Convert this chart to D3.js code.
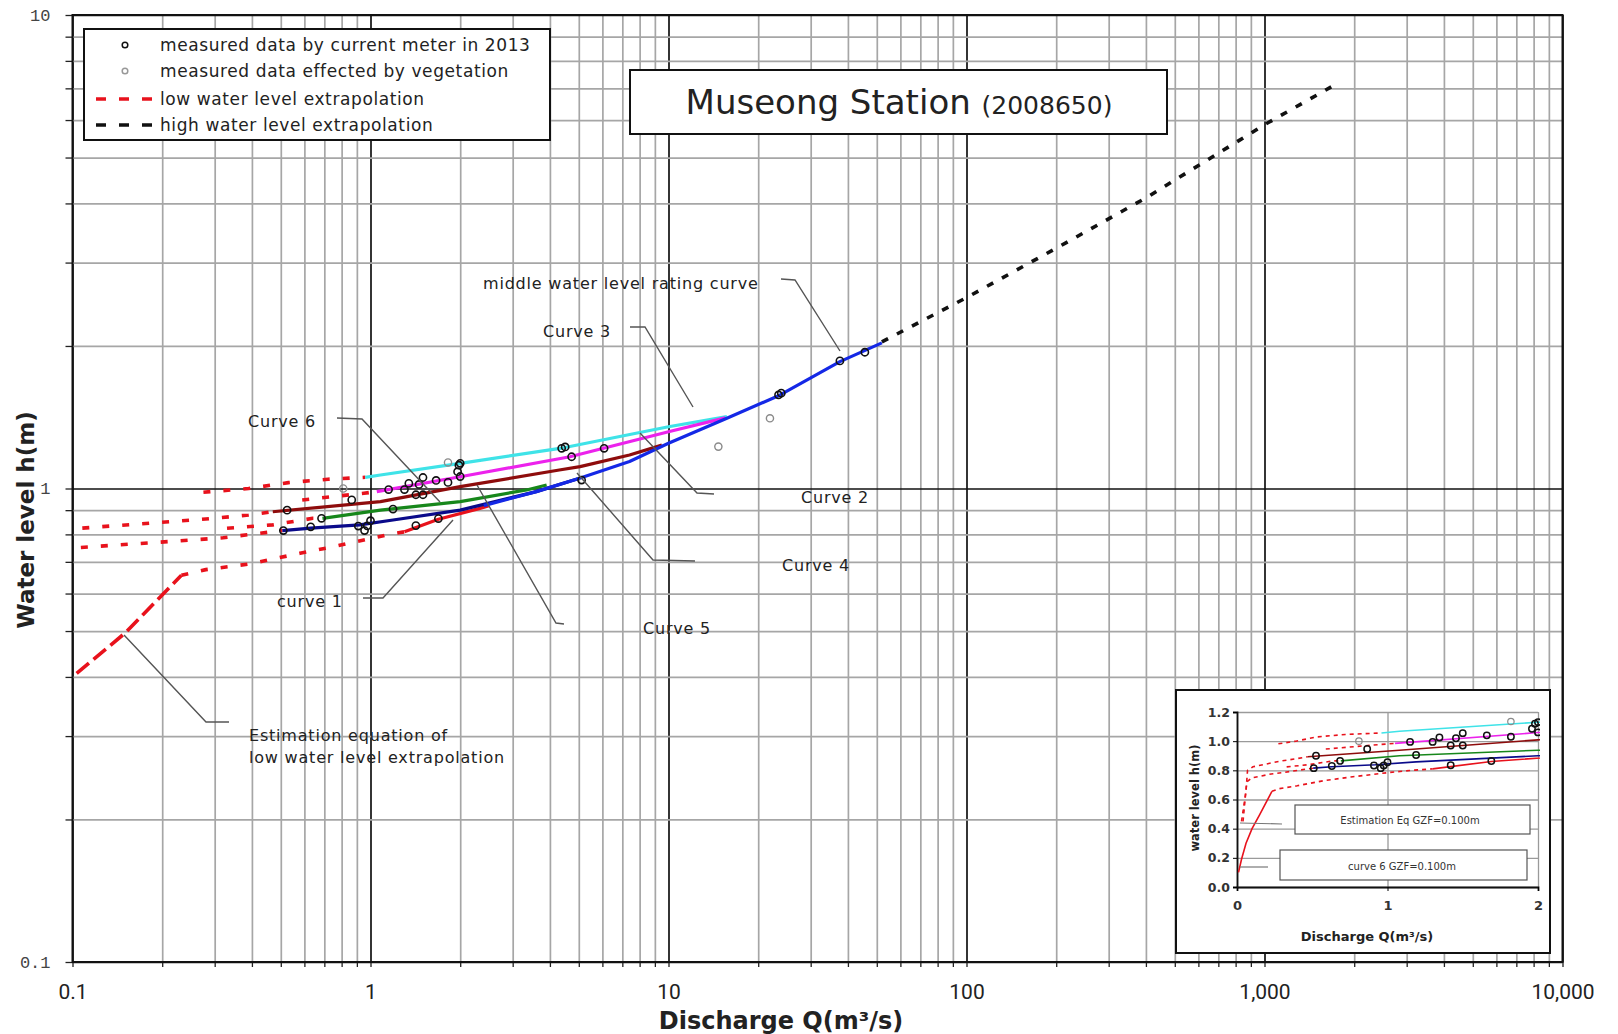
<!DOCTYPE html>
<html>
<head>
<meta charset="utf-8">
<script src="https://cdn.jsdelivr.net/npm/d3@7"></script>
<style>
  body { margin: 0; background: #fff; }
  svg text { font-family: "DejaVu Sans", sans-serif; }
</style>
</head>
<body>
<svg id="chart" width="1618" height="1034"></svg>
<script>
// ---- data (discharge Q in m3/s, water level h in m) ----
const xTickValues = [0.1, 1, 10, 100, 1000, 10000];
const xTickLabels = ["0.1", "1", "10", "100", "1,000", "10,000"];
const yTickValues = [0.1, 1, 10];
const yTickLabels = ["0.1", "1", "10"];

const curve1 = [[0.506, 0.815], [0.63, 0.825], [0.92, 0.838], [1.19, 0.858], [2.0, 0.90], [3.6, 0.985], [5.0, 1.05]];
const middleCurve = [[2.4, 0.92], [3.6, 0.985], [5.0, 1.05], [7.4, 1.14], [10, 1.246], [15.7, 1.407], [23.7, 1.576], [37.6, 1.853], [52, 2.03]];
const curve4 = [[0.69, 0.865], [1.08, 0.90], [2.0, 0.938], [3.34, 0.993], [3.9, 1.017]];
const curve5 = [[0.47, 0.893], [1.08, 0.938], [2.0, 1.009], [4.3, 1.094], [5.05, 1.112], [7.4, 1.177], [9.5, 1.235]];
const curve2 = [[1.05, 0.985], [2.0, 1.059], [4.67, 1.167], [10, 1.318], [15.5, 1.41]];
const curve3 = [[0.96, 1.056], [1.08, 1.068], [2.0, 1.13], [4.32, 1.215], [10, 1.35], [15.7, 1.418]];
const curveRed = [[1.3, 0.81], [1.69, 0.861], [2.33, 0.908], [2.5, 0.92]];

const lowExtCyan = [[0.275, 0.982], [0.39, 1.0], [0.53, 1.029], [0.72, 1.046], [0.96, 1.056]];
const lowExtMagenta = [[0.59, 0.946], [0.95, 0.977], [1.05, 0.985]];
const lowExtBrown = [[0.03, 0.45], [0.06, 0.66], [0.07, 0.80], [0.106, 0.824], [0.28, 0.862], [0.39, 0.879], [0.47, 0.893]];
const lowExtNavy = [[0.04, 0.45], [0.065, 0.72], [0.098, 0.748], [0.227, 0.775], [0.32, 0.787], [0.506, 0.815]];
const lowExtGreen = [[0.33, 0.824], [0.47, 0.838], [0.64, 0.865], [0.69, 0.865]];
const lowExtRed = [[0.232, 0.656], [0.28, 0.674], [0.40, 0.694], [0.58, 0.73], [0.77, 0.756], [1.01, 0.785], [1.16, 0.80], [1.3, 0.81]];
const estimationLine = [[0.01, 0.10], [0.03, 0.19], [0.06, 0.30], [0.1, 0.40], [0.15, 0.495], [0.232, 0.656]];
const highExt = [[52, 2.04], [100, 2.53], [206, 3.25], [403, 4.12], [1007, 5.88], [1675, 7.05]];

const measured = [[0.51, 0.815], [0.525, 0.90], [0.63, 0.83], [0.685, 0.865], [0.865, 0.946], [0.91, 0.833],
  [0.955, 0.815], [0.975, 0.834], [1.0, 0.855], [1.15, 0.995], [1.19, 0.905], [1.30, 0.995], [1.345, 1.025],
  [1.42, 0.835], [1.42, 0.97], [1.455, 1.02], [1.50, 1.055], [1.50, 0.97], [1.66, 1.04], [1.69, 0.864],
  [1.82, 1.03], [1.96, 1.085], [1.98, 1.12], [2.0, 1.13], [2.0, 1.06], [4.38, 1.216], [4.5, 1.224],
  [4.73, 1.167], [5.11, 1.042], [6.08, 1.216], [23.4, 1.576], [23.9, 1.59], [37.6, 1.86], [45.6, 1.94]];
const vegetation = [[0.81, 1.0], [1.82, 1.135], [14.7, 1.226], [21.9, 1.407]];

const insetXTicks = [0, 1, 2];
const insetXLabels = ["0", "1", "2"];
const insetYTicks = [0, 0.2, 0.4, 0.6, 0.8, 1.0, 1.2];
const insetYLabels = ["0.0", "0.2", "0.4", "0.6", "0.8", "1.0", "1.2"];

// ---- layout ----
const plot = { left: 72.5, right: 1562.5, top: 15, bottom: 962 };
const svg = d3.select("#chart");

const x = d3.scaleLog().domain([0.1, 10000]).range([plot.left, plot.right]);
const y = d3.scaleLog().domain([0.1, 10]).range([plot.bottom, plot.top]);

const isMajor = v => Math.abs(Math.log10(v) - Math.round(Math.log10(v))) < 1e-9;
const gridX = d3.range(-1, 4).flatMap(e => d3.range(1, 10).map(k => k * Math.pow(10, e))).concat([10000]);
const gridY = d3.range(-1, 1).flatMap(e => d3.range(1, 10).map(k => k * Math.pow(10, e))).concat([10]);

// grid
svg.append('g')
    .attr('transform', `translate(0, ${plot.bottom})`)
    .call(d3.axisBottom(x).tickValues(gridX).tickSize(-(plot.bottom - plot.top)).tickFormat(''))
    .call(g => g.select('.domain').remove())
    .selectAll('line')
    .attr('stroke', d => isMajor(d) ? '#111' : '#a6a6a6')
    .attr('stroke-width', 1.7);

svg.append('g')
    .attr('transform', `translate(${plot.left}, 0)`)
    .call(d3.axisLeft(y).tickValues(gridY).tickSize(-(plot.right - plot.left)).tickFormat(''))
    .call(g => g.select('.domain').remove())
    .selectAll('line')
    .attr('stroke', d => isMajor(d) ? '#111' : '#a6a6a6')
    .attr('stroke-width', 1.7);

// outer tick marks
svg.append('g')
    .attr('transform', `translate(0, ${plot.bottom})`)
    .call(d3.axisBottom(x).tickValues(gridX).tickSize(5).tickFormat(''))
    .call(g => g.select('.domain').remove())
    .selectAll('line').attr('stroke', '#222').attr('stroke-width', 1.3);

svg.append('g')
    .attr('transform', `translate(${plot.left}, 0)`)
    .call(d3.axisLeft(y).tickValues(gridY).tickSize(7).tickFormat(''))
    .call(g => g.select('.domain').remove())
    .selectAll('line').attr('stroke', '#222').attr('stroke-width', 1.3);

// tick labels
svg.append('g')
    .attr('transform', `translate(0, ${plot.bottom})`)
    .call(d3.axisBottom(x).tickValues(xTickValues).tickSize(0).tickPadding(22)
        .tickFormat((d, i) => xTickLabels[i]))
    .call(g => g.select('.domain').remove())
    .selectAll('text')
    .style('font-family', 'Roboto, sans-serif')
    .style('font-size', '21px')
    .attr('fill', '#222');

svg.append('g')
    .attr('transform', `translate(${plot.left}, 0)`)
    .call(d3.axisLeft(y).tickValues(yTickValues).tickSize(0).tickPadding(22)
        .tickFormat((d, i) => yTickLabels[i]))
    .call(g => g.select('.domain').remove())
    .selectAll('text')
    .style('font-family', '"Liberation Mono", monospace')
    .style('font-size', '17px')
    .attr('fill', '#444');

// axis titles
svg.append('text')
    .attr('x', 781).attr('y', 1029)
    .attr('text-anchor', 'middle')
    .style('font-size', '24px').style('font-weight', 'bold')
    .attr('fill', '#222')
    .text('Discharge Q(m³/s)');

svg.append('text')
    .attr('transform', 'translate(34, 520) rotate(-90)')
    .attr('text-anchor', 'middle')
    .style('font-size', '23px').style('font-weight', 'bold')
    .attr('fill', '#222')
    .text('Water level h(m)');

// ---- data marks ----
svg.append('clipPath').attr('id', 'plotClip')
    .append('rect')
    .attr('x', plot.left).attr('y', plot.top)
    .attr('width', plot.right - plot.left).attr('height', plot.bottom - plot.top);

const dataG = svg.append('g').attr('clip-path', 'url(#plotClip)');
const line = d3.line().x(d => x(d[0])).y(d => y(d[1]));

const RED = '#e8121c';
const dashed = [lowExtCyan, lowExtMagenta, lowExtBrown, lowExtNavy, lowExtGreen, lowExtRed];
dashed.forEach(s => {
    dataG.append('path').datum(s).attr('d', line)
        .attr('fill', 'none').attr('stroke', RED).attr('stroke-width', 3.6)
        .attr('stroke-dasharray', '7,13');
});
dataG.append('path').datum(estimationLine).attr('d', line)
    .attr('fill', 'none').attr('stroke', RED).attr('stroke-width', 3.6)
    .attr('stroke-dasharray', '16,6');
dataG.append('path').datum(highExt).attr('d', line)
    .attr('fill', 'none').attr('stroke', '#111').attr('stroke-width', 3.6)
    .attr('stroke-dasharray', '7,10');

const solidCurves = [
    { data: curve3, color: '#3fe3e8' },
    { data: curve2, color: '#ec22ec' },
    { data: curve5, color: '#8e0c0c' },
    { data: curve4, color: '#17871b' },
    { data: curveRed, color: '#e8121c' },
    { data: curve1, color: '#0a0a8a' },
    { data: middleCurve, color: '#1428e6' }
];
solidCurves.forEach(c => {
    dataG.append('path').datum(c.data).attr('d', line)
        .attr('fill', 'none').attr('stroke', c.color).attr('stroke-width', 3.2)
        .attr('stroke-linejoin', 'round');
});

dataG.selectAll('.veg').data(vegetation).enter().append('circle')
    .attr('cx', d => x(d[0])).attr('cy', d => y(d[1])).attr('r', 3.6)
    .attr('fill', 'none').attr('stroke', '#8a8a8a').attr('stroke-width', 1.4);

dataG.selectAll('.meas').data(measured).enter().append('circle')
    .attr('cx', d => x(d[0])).attr('cy', d => y(d[1])).attr('r', 3.6)
    .attr('fill', 'none').attr('stroke', '#111').attr('stroke-width', 1.6);

// plot border
svg.append('rect')
    .attr('x', plot.left).attr('y', plot.top)
    .attr('width', plot.right - plot.left).attr('height', plot.bottom - plot.top)
    .attr('fill', 'none').attr('stroke', '#111').attr('stroke-width', 2);

// ---- annotations ----
const leaders = [
    { pts: [[781, 279], [795, 280], [840, 351]], label: 'middle water level rating curve', lx: 483, ly: 283 },
    { pts: [[630, 327], [645, 327], [693, 407]], label: 'Curve 3', lx: 543, ly: 331 },
    { pts: [[337, 418], [362, 419], [440, 502]], label: 'Curve 6', lx: 248, ly: 421 },
    { pts: [[640, 433], [697, 493], [714, 494]], label: 'Curve 2', lx: 801, ly: 497 },
    { pts: [[577, 473], [653, 560], [695, 561]], label: 'Curve 4', lx: 782, ly: 565 },
    { pts: [[477, 485], [556, 623], [564, 624]], label: 'Curve 5', lx: 643, ly: 628 },
    { pts: [[453, 520], [383, 598], [363, 598]], label: 'curve 1', lx: 277, ly: 601 },
    { pts: [[124, 635], [206, 722], [229, 722]], label: 'Estimation equation of', lx: 249, ly: 735 }
];
const noteText = sel => sel.style('font-size', '16px').style('letter-spacing', '0.8px').attr('fill', '#222');
leaders.forEach(a => {
    svg.append('path').attr('d', d3.line()(a.pts))
        .attr('fill', 'none').attr('stroke', '#555').attr('stroke-width', 1.4);
    svg.append('text').attr('x', a.lx).attr('y', a.ly).attr('dy', '0.35em')
        .call(noteText).text(a.label);
});
svg.append('text').attr('x', 249).attr('y', 757).attr('dy', '0.35em')
    .call(noteText).text('low water level extrapolation');

// ---- legend ----
const legend = svg.append('g');
legend.append('rect').attr('x', 84).attr('y', 29).attr('width', 466).attr('height', 111)
    .attr('fill', '#fff').attr('stroke', '#111').attr('stroke-width', 2);
const legendItems = [
    { label: 'measured data by current meter in 2013', type: 'circle', color: '#111' },
    { label: 'measured data effected by vegetation', type: 'circle', color: '#999' },
    { label: 'low water level extrapolation', type: 'dash', color: RED },
    { label: 'high water level extrapolation', type: 'dash', color: '#111' }
];
const legendRows = [45, 71, 99, 125];
legendItems.forEach((it, i) => {
    const yy = legendRows[i];
    if (it.type === 'circle') {
        legend.append('circle').attr('cx', 125).attr('cy', yy).attr('r', 2.8)
            .attr('fill', 'none').attr('stroke', it.color).attr('stroke-width', 1.5);
    } else {
        legend.append('line').attr('x1', 96).attr('x2', 152).attr('y1', yy).attr('y2', yy)
            .attr('stroke', it.color).attr('stroke-width', 3.6).attr('stroke-dasharray', '10,13');
    }
    legend.append('text').attr('x', 160).attr('y', yy).attr('dy', '0.35em')
        .style('font-size', '17px').style('letter-spacing', '0.6px')
        .attr('fill', '#222').text(it.label);
});

// ---- title ----
svg.append('rect').attr('x', 630).attr('y', 70).attr('width', 537).attr('height', 64)
    .attr('fill', '#fff').attr('stroke', '#111').attr('stroke-width', 2);
const title = svg.append('text').attr('x', 899).attr('y', 114).attr('text-anchor', 'middle').attr('fill', '#222');
title.append('tspan').style('font-size', '34px').text('Museong Station ');
title.append('tspan').style('font-size', '25px').text('(2008650)');

// ---- inset (linear scale) ----
const inset = svg.append('g');
inset.append('rect').attr('x', 1176).attr('y', 690).attr('width', 374).attr('height', 263)
    .attr('fill', '#fff').attr('stroke', '#111').attr('stroke-width', 2);

const xi = d3.scaleLinear().domain([0, 2]).range([1237, 1538]);
const yi = d3.scaleLinear().domain([0, 1.2]).range([887, 712]);

inset.append('g')
    .attr('transform', 'translate(0, 887)')
    .call(d3.axisBottom(xi).tickValues(insetXTicks).tickSize(-(887 - 712)).tickFormat(''))
    .call(g => g.select('.domain').remove())
    .selectAll('line').attr('stroke', '#9a9a9a').attr('stroke-width', 1.3);
inset.append('g')
    .attr('transform', 'translate(1237, 0)')
    .call(d3.axisLeft(yi).tickValues(insetYTicks).tickSize(-(1538 - 1237)).tickFormat(''))
    .call(g => g.select('.domain').remove())
    .selectAll('line').attr('stroke', '#9a9a9a').attr('stroke-width', 1.3);

inset.append('g')
    .attr('transform', 'translate(0, 887)')
    .call(d3.axisBottom(xi).tickValues(insetXTicks).tickSize(4).tickPadding(10)
        .tickFormat((d, i) => insetXLabels[i]))
    .call(g => g.select('.domain').attr('stroke', '#111').attr('stroke-width', 1.8))
    .call(g => g.selectAll('text').style('font-size', '13px').style('font-weight', 'bold').attr('fill', '#333'));
inset.append('g')
    .attr('transform', 'translate(1237, 0)')
    .call(d3.axisLeft(yi).tickValues(insetYTicks).tickSize(4).tickPadding(3)
        .tickFormat((d, i) => insetYLabels[i]))
    .call(g => g.select('.domain').attr('stroke', '#111').attr('stroke-width', 1.8))
    .call(g => g.selectAll('text').style('font-size', '12.5px').style('font-weight', 'bold').attr('fill', '#333'));

inset.append('clipPath').attr('id', 'insetClip')
    .append('rect').attr('x', 1237).attr('y', 700).attr('width', 303).attr('height', 188);
const insetData = inset.append('g').attr('clip-path', 'url(#insetClip)');
const lineI = d3.line().x(d => xi(d[0])).y(d => yi(d[1]));

dashed.forEach(s => {
    insetData.append('path').datum(s).attr('d', lineI)
        .attr('fill', 'none').attr('stroke', RED).attr('stroke-width', 1.6)
        .attr('stroke-dasharray', '4,4');
});
insetData.append('path').datum(estimationLine).attr('d', lineI)
    .attr('fill', 'none').attr('stroke', RED).attr('stroke-width', 1.6);
solidCurves.forEach(c => {
    insetData.append('path').datum(c.data).attr('d', lineI)
        .attr('fill', 'none').attr('stroke', c.color).attr('stroke-width', 1.6);
});
insetData.selectAll('.iveg').data(vegetation).enter().append('circle')
    .attr('cx', d => xi(d[0])).attr('cy', d => yi(d[1])).attr('r', 3.2)
    .attr('fill', 'none').attr('stroke', '#8a8a8a').attr('stroke-width', 1.2);
insetData.selectAll('.imeas').data(measured).enter().append('circle')
    .attr('cx', d => xi(d[0])).attr('cy', d => yi(d[1])).attr('r', 3.2)
    .attr('fill', 'none').attr('stroke', '#111').attr('stroke-width', 1.5);

// inset notes
const insetNotes = [
    { box: [1295, 805, 235, 29], text: 'Estimation Eq GZF=0.100m', tx: 1410, ty: 820, lead: [[1240, 823], [1282, 824]] },
    { box: [1280, 850, 247, 30], text: 'curve 6 GZF=0.100m', tx: 1402, ty: 866, lead: [[1240, 867], [1268, 867]] }
];
insetNotes.forEach(n => {
    inset.append('rect').attr('x', n.box[0]).attr('y', n.box[1]).attr('width', n.box[2]).attr('height', n.box[3])
        .attr('fill', '#fff').attr('stroke', '#555').attr('stroke-width', 1.2);
    inset.append('text').attr('x', n.tx).attr('y', n.ty).attr('dy', '0.35em').attr('text-anchor', 'middle')
        .style('font-size', '10px').attr('fill', '#333').text(n.text);
    inset.append('path').attr('d', d3.line()(n.lead)).attr('stroke', '#777').attr('stroke-width', 1.2);
});

inset.append('text').attr('x', 1367).attr('y', 941).attr('text-anchor', 'middle')
    .style('font-size', '13px').style('font-weight', 'bold').attr('fill', '#222')
    .text('Discharge Q(m³/s)');
inset.append('text').attr('transform', 'translate(1199, 798) rotate(-90)').attr('text-anchor', 'middle')
    .style('font-size', '11.5px').style('font-weight', 'bold').attr('fill', '#222')
    .text('water level h(m)');
</script>
</body>
</html>
